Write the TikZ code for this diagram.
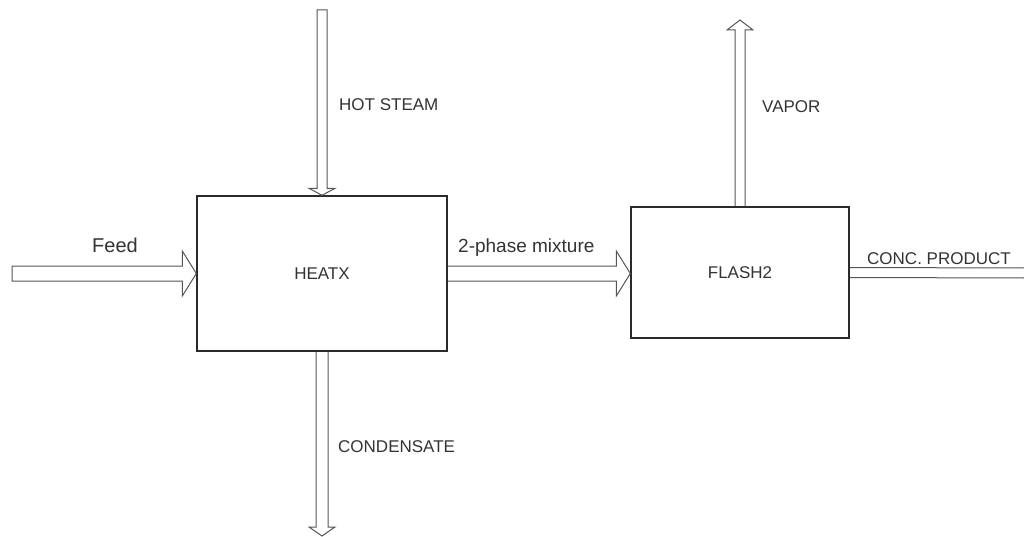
\documentclass[tikz,border=0pt]{standalone}
\usepackage{fontspec}
\setmainfont{Liberation Sans}
\usetikzlibrary{calc}
\definecolor{boxline}{HTML}{2A2A2A}
\definecolor{pipeline}{HTML}{555555}
\definecolor{txt}{HTML}{333333}
\begin{document}
\begin{tikzpicture}[x=1pt,y=-1pt,
  unit/.style={draw=boxline,line width=1.4pt,fill=white,text=txt,font=\fontsize{17}{20}\selectfont,inner sep=0pt},
  pipe/.style={draw=pipeline,line width=1pt,line join=miter},
  lbl/.style={text=txt,inner sep=0pt,anchor=base west,font=\fontsize{17}{20}\selectfont}]
\useasboundingbox (0,0) rectangle (1024,537);
\node[unit,minimum width=250pt,minimum height=155pt] (heatx) at (322,273.5) {HEATX};
\node[unit,minimum width=218pt,minimum height=131pt] (flash2) at (740,272.5) {FLASH2};
\coordinate (feedin) at (12,273.5);
\coordinate (steamin) at (322,10);
\coordinate (vapout) at (740,20);
\coordinate (condout) at (322,536);
\coordinate (prodout) at (1024,273);
\coordinate (mixtip) at (flash2.west |- heatx.east);
% Feed
\draw[pipe] ($(feedin)+(0,-7.5)$) -- ($(heatx.west)+(-14,-7.5)$) -- ($(heatx.west)+(-14,-22.5)$) -- (heatx.west)
  -- ($(heatx.west)+(-14,22.5)$) -- ($(heatx.west)+(-14,7.5)$) -- ($(feedin)+(0,7.5)$) -- cycle;
% 2-phase mixture
\draw[pipe] ($(heatx.east)+(0,-7.5)$) -- ($(mixtip)+(-14,-7.5)$) -- ($(mixtip)+(-14,-22.5)$) -- (mixtip)
  -- ($(mixtip)+(-14,22.5)$) -- ($(mixtip)+(-14,7.5)$) -- ($(heatx.east)+(0,7.5)$);
% Hot steam
\draw[pipe] ($(steamin)+(-5,0)$) -- ($(heatx.north)+(-5,-7)$) -- ($(heatx.north)+(-13,-7)$) -- (heatx.north)
  -- ($(heatx.north)+(13,-7)$) -- ($(heatx.north)+(5,-7)$) -- ($(steamin)+(5,0)$) -- cycle;
% Condensate
\draw[pipe] ($(heatx.south)+(-6,0)$) -- ($(condout)+(-6,-9)$) -- ($(condout)+(-13,-9)$) -- (condout)
  -- ($(condout)+(13,-9)$) -- ($(condout)+(6,-9)$) -- ($(heatx.south)+(6,0)$);
% Vapor
\draw[pipe] ($(flash2.north)+(-5,0)$) -- ($(vapout)+(-5,10)$) -- ($(vapout)+(-13,10)$) -- (vapout)
  -- ($(vapout)+(13,10)$) -- ($(vapout)+(5,10)$) -- ($(flash2.north)+(5,0)$);
% Conc. product
\draw[pipe] ($(flash2.east)+(0,-5)$) -- ($(prodout)+(0,-5)$);
\draw[pipe] ($(flash2.east)+(0,5)$) -- ($(prodout)+(0,5)$);
% labels
\node[lbl,font=\fontsize{20}{24}\selectfont] (lfeed) at (92,252) {Feed};
\node[lbl,font=\fontsize{19}{23}\selectfont] (lmix) at (458,252) {2-phase mixture};
\node[lbl] (lsteam) at (339,111) {HOT STEAM};
\node[lbl] (lvap) at (762,113) {VAPOR};
\node[lbl] (lcond) at (338,452) {CONDENSATE};
\node[lbl] (lprod) at (867,264) {CONC. PRODUCT};
\end{tikzpicture}
\end{document}
